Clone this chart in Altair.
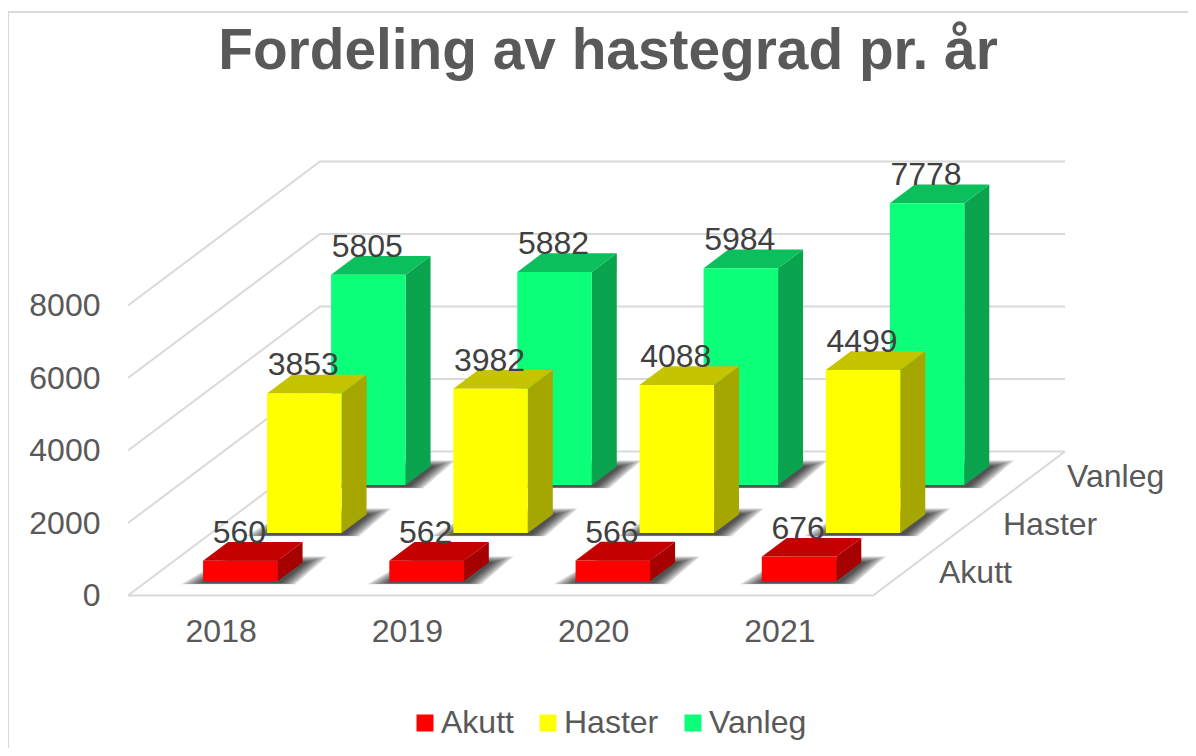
import altair as alt
import pandas as pd

# ---- data ----
years = ["2018", "2019", "2020", "2021"]
series = ["Akutt", "Haster", "Vanleg"]
akutt = [560, 562, 566, 676]
haster = [3853, 3982, 4088, 4499]
vanleg = [5805, 5882, 5984, 7778]
values = {"Akutt": akutt, "Haster": haster, "Vanleg": vanleg}
y_ticks = [0, 2000, 4000, 6000, 8000]
front_col = ["#ff0000", "#ffff00", "#0bff79"]
top_col = ["#c40000", "#c4c400", "#0bbf5c"]
side_col = ["#a60000", "#a6a600", "#0aa44f"]

# ---- oblique projection: category slot + depth slot -> plane ----
W, H = 1180, 740
PX = 0.03625            # px per unit of value
X0, SLOT, DX, DY = 128.0, 186.25, 64.0, 48.0
Y0 = 595.5
D_UNIT = DY / PX        # one depth slot, in value units
F0, F1 = 0.30, 0.70     # bar extent within a category slot
D0, D1 = 0.30, 0.69     # bar extent within a depth slot
xs = alt.Scale(domain=[8, 8 + W], nice=False, zero=False)
ys = alt.Scale(domain=[(Y0 - 8 - H) / PX, (Y0 - 8) / PX], nice=False, zero=False)
AX = alt.Axis(values=y_ticks, format="d", domain=False, ticks=False, grid=False, title=None,
              labelFont="Liberation Sans", labelFontSize=32, labelColor="#595959",
              labelPadding=0, offset=-92, labelFlush=False, labelOverlap=False)


def px(c, d):
    return X0 + SLOT * c + DX * d


def vy(v, d):
    return v + d * D_UNIT


def X(f="x"):
    return alt.X(f"{f}:Q", scale=xs, axis=None, stack=None)


def Y(f="y"):
    return alt.Y(f"{f}:Q", scale=ys, axis=AX, stack=None)


# ---- walls and floor ----
rows = []
for v in y_ticks:
    rows += [dict(k=f"w{v}", n=0, x=px(0, 0), y=vy(v, 0)),
             dict(k=f"w{v}", n=1, x=px(0, 3), y=vy(v, 3)),
             dict(k=f"w{v}", n=2, x=px(4, 3), y=vy(v, 3))]
rows += [dict(k="f", n=0, x=px(0, 0), y=vy(0, 0)),
         dict(k="f", n=1, x=px(4, 0), y=vy(0, 0)),
         dict(k="f", n=2, x=px(4, 3), y=vy(0, 3))]
grid = alt.Chart(pd.DataFrame(rows)).mark_line(color="#d9d9d9", strokeWidth=2).encode(
    x=X(), y=Y(), detail="k:N", order="n:Q")

# frame of the chart
frame_top = alt.Chart(pd.DataFrame({"a": [0]})).mark_rule(color="#d9d9d9", strokeWidth=2).encode(
    x=alt.value(0), x2=alt.value(W), y=alt.value(4))
frame_left = alt.Chart(pd.DataFrame({"a": [0]})).mark_rule(color="#d9d9d9", strokeWidth=2).encode(
    x=alt.value(0), y=alt.value(4), y2=alt.value(H))

layers = [frame_top, frame_left, grid]

# ---- bars, back row first ----
color = alt.Color("series:N", scale=alt.Scale(domain=series, range=front_col),
                  legend=alt.Legend(title=None, orient="none", legendX=401, legendY=699,
                                    direction="horizontal", symbolType="square", symbolSize=289,
                                    symbolStrokeWidth=0, labelFont="Liberation Sans",
                                    labelFontSize=32, labelColor="#595959", labelOffset=0,
                                    columnPadding=18, columns=3))
for s in [2, 1, 0]:
    name = series[s]
    shadow, side, top, front = [], [], [], []
    for c, v in enumerate(values[name]):
        l, r = c + F0, c + F1
        d0, d1 = s + D0, s + D1
        for g in [24, 20, 16, 12, 9, 6, 3, 1]:
            key = f"{c}-{g}"
            by0, by1 = vy(0, d0) - (2 + g * 0.05) / PX, vy(0, d1) + (g * 0.25) / PX
            shadow += [dict(k=key, y=by0, x=px(l, d0) - g * 0.9, x2=px(r, d0) + 3 + g * 0.6),
                       dict(k=key, y=by1, x=px(l, d1), x2=px(r, d1) + 3 + g * 0.9)]
        side += [dict(k=c, x=px(r, d0), y=vy(v, d0), y2=vy(0, d0)),
                 dict(k=c, x=px(r, d1), y=vy(v, d1), y2=vy(0, d1))]
        top += [dict(k=c, y=vy(v, d0), x=px(l, d0), x2=px(r, d0)),
                dict(k=c, y=vy(v, d1), x=px(l, d1), x2=px(r, d1))]
        front.append(dict(series=name, x=px(l, d0), x2=px(r, d0), y=vy(v, d0), y2=vy(0, d0)))
    layers.append(alt.Chart(pd.DataFrame(shadow)).mark_area(
        orient="horizontal", color="#303030", opacity=0.2).encode(
        y=Y(), x=X(), x2="x2:Q", detail="k:N"))
    layers.append(alt.Chart(pd.DataFrame(side)).mark_area(color=side_col[s]).encode(
        x=X(), y=Y(), y2="y2:Q", detail="k:N"))
    layers.append(alt.Chart(pd.DataFrame(top)).mark_area(orient="horizontal", color=top_col[s]).encode(
        y=Y(), x=X(), x2="x2:Q", detail="k:N"))
    layers.append(alt.Chart(pd.DataFrame(front)).mark_rect().encode(
        x=X(), x2="x2:Q", y=Y(), y2="y2:Q", color=color))

# ---- texts ----
lab = []
for s in [2, 1, 0]:
    for c, v in enumerate(values[series[s]]):
        lab.append(dict(x=px(c + 0.5, s + D0) - 1, y=vy(v, s + D0) + 28 / PX, t=str(v)))
layers.append(alt.Chart(pd.DataFrame(lab)).mark_text(
    font="Liberation Sans", fontSize=32, color="#404040", baseline="middle").encode(
    x=X(), y=Y(), text="t:N"))

yr = [dict(x=px(c + 0.5, 0), y=-36.5 / PX, t=t) for c, t in enumerate(years)]
layers.append(alt.Chart(pd.DataFrame(yr)).mark_text(
    font="Liberation Sans", fontSize=32, color="#595959", baseline="middle").encode(
    x=X(), y=Y(), text="t:N"))

dep = [dict(x=px(4, s) + 66, y=vy(0, s + 0.5) - 1 / PX, t=n) for s, n in enumerate(series)]
layers.append(alt.Chart(pd.DataFrame(dep)).mark_text(
    font="Liberation Sans", fontSize=32, color="#595959", baseline="middle", align="left").encode(
    x=X(), y=Y(), text="t:N"))

chart = alt.layer(*layers).properties(
    width=W, height=H, padding=0, autosize=alt.AutoSizeParams(type="none"),
    background="white",
    title=alt.TitleParams("Fordeling av hastegrad pr. år", font="Liberation Sans", fontSize=56.8,
                          fontWeight="bold", color="#595959", anchor="middle", dx=10, offset=-73),
).configure_view(stroke=None)

chart.save("out.html", embed_options={"renderer": "svg", "actions": False})
